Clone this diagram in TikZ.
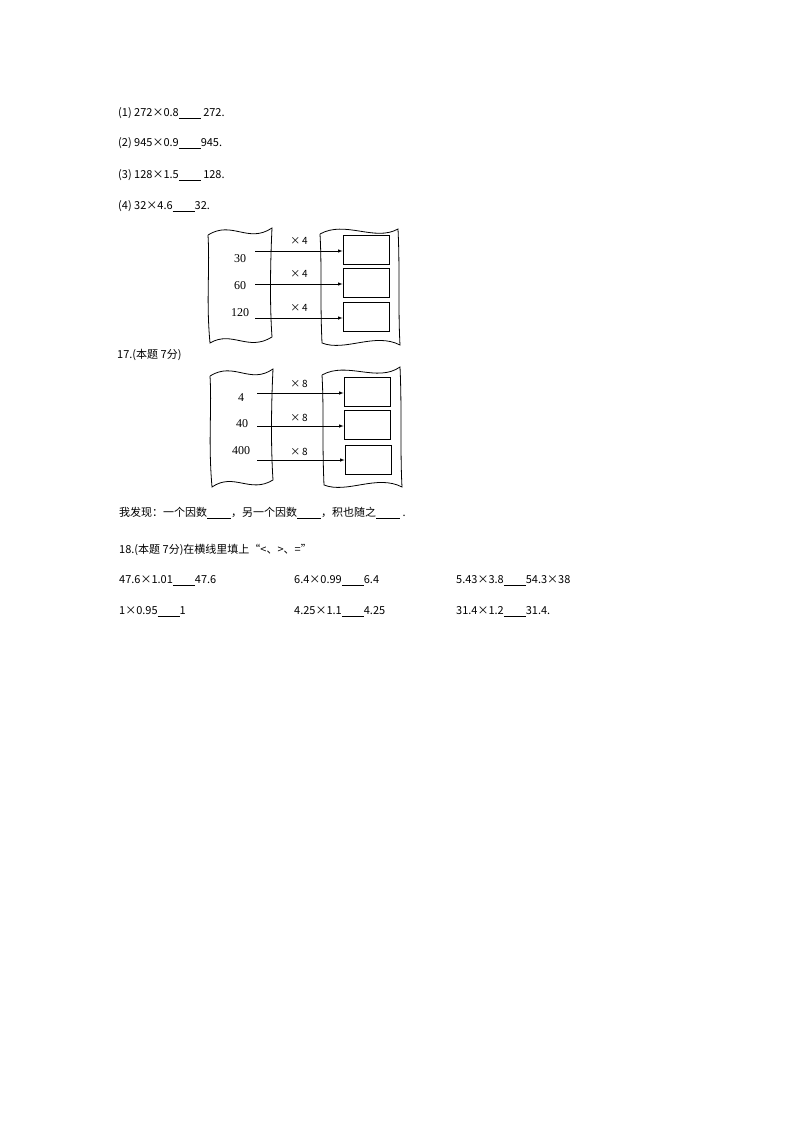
\documentclass[tikz,border=0pt]{standalone}
\usepackage{fontspec}
\setmainfont{Liberation Serif}
\newfontfamily\cjk{Noto Sans CJK SC}
\newfontfamily\mono{Liberation Mono}
\begin{document}
\begin{tikzpicture}[x=1pt,y=-1pt,
  txt/.style={anchor=west,inner sep=0pt,font=\cjk\fontsize{11}{11}\selectfont},
  num/.style={inner sep=0pt,font=\fontsize{12}{12}\selectfont},
  lab/.style={inner sep=0pt,font=\cjk\fontsize{10}{10}\selectfont},
  ansbox/.style={draw,line width=0.8pt,minimum width=46pt,minimum height=29pt,inner sep=0pt},
  pg/.style={draw,line width=0.8pt},
  arr/.style={-latex,line width=0.6pt}]
\useasboundingbox (0,0) rectangle (794,1123);
\node[txt] (l1) at (118,113) {(1) 272×0.8\underline{\hspace{22pt}} 272.};
\node[txt] (l2) at (118,143) {(2) 945×0.9\underline{\hspace{22pt}}945.};
\node[txt] (l3) at (118,175) {(3) 128×1.5\underline{\hspace{22pt}} 128.};
\node[txt] (l4) at (118,206) {(4) 32×4.6\underline{\hspace{22pt}}32.};
% diagram 1
\draw[pg] (208,235) .. controls (232,220) and (248,244) .. (272,228)
  .. controls (270,270) and (270,310) .. (272,337)
  .. controls (248,352) and (232,330) .. (210,343)
  .. controls (206,300) and (210,270) .. (208,235);
\draw[pg] (320,234) .. controls (345,220) and (375,242) .. (398,229)
  .. controls (400,270) and (398,310) .. (400,345)
  .. controls (375,332) and (345,352) .. (322,343)
  .. controls (320,300) and (322,270) .. (320,234);
\node[ansbox] (b1) at (366,250) {};
\node[ansbox] (b2) at (366,283) {};
\node[ansbox] (b3) at (366,317) {};
\node[num] (n1) at (240,259) {30};
\node[num] (n2) at (240,286) {60};
\node[num] (n3) at (240,313) {120};
\coordinate (s1) at (255,251); \coordinate (s2) at (255,284); \coordinate (s3) at (255,318);
\draw[arr] (s1) -- (b1.west |- s1);
\draw[arr] (s2) -- (b2.west |- s2);
\draw[arr] (s3) -- (b3.west |- s3);
\node[lab] (x1) at (299,241) {×\,4};
\node[lab] (x2) at (299,274) {×\,4};
\node[lab] (x3) at (299,308) {×\,4};
\node[txt] (t17) at (117,355) {17.(本题 7分)};
% diagram 2
\draw[pg] (210,376) .. controls (234,361) and (250,385) .. (273,369)
  .. controls (271,410) and (271,450) .. (273,480)
  .. controls (250,494) and (234,472) .. (212,487)
  .. controls (208,440) and (212,410) .. (210,376);
\draw[pg] (322,375) .. controls (347,361) and (377,383) .. (400,367)
  .. controls (402,410) and (400,450) .. (402,487)
  .. controls (377,474) and (347,494) .. (324,485)
  .. controls (322,440) and (324,410) .. (322,375);
\node[ansbox] (c1) at (367,392) {};
\node[ansbox] (c2) at (367,425) {};
\node[ansbox] (c3) at (368,460) {};
\node[num] (m1) at (241,398) {4};
\node[num] (m2) at (242,424) {40};
\node[num] (m3) at (241,451) {400};
\coordinate (r1) at (257,393); \coordinate (r2) at (257,426); \coordinate (r3) at (257,460);
\draw[arr] (r1) -- (c1.west |- r1);
\draw[arr] (r2) -- (c2.west |- r2);
\draw[arr] (r3) -- (c3.west |- r3);
\node[lab] (y1) at (299,384) {×\,8};
\node[lab] (y2) at (299,418) {×\,8};
\node[lab] (y3) at (299,452) {×\,8};
\node[txt] (fx) at (119,513) {我发现：一个因数\underline{\hspace{24pt}}，另一个因数\underline{\hspace{24pt}}，积也随之\underline{\hspace{24pt}} .};
\node[txt] (t18) at (119,550) {18.(本题 7分)在横线里填上“<、>、=”};
\node[txt] (a1) at (119,581) {47.6×1.01\underline{\hspace{22pt}}47.6};
\node[txt] (a2) at (294,581) {6.4×0.99\underline{\hspace{22pt}}6.4};
\node[txt] (a3) at (456,581) {5.43×3.8\underline{\hspace{22pt}}54.3×38};
\node[txt] (a4) at (119,612) {1×0.95\underline{\hspace{22pt}}1};
\node[txt] (a5) at (294,612) {4.25×1.1\underline{\hspace{22pt}}4.25};
\node[txt] (a6) at (456,612) {31.4×1.2\underline{\hspace{22pt}}31.4.};
\end{tikzpicture}
\end{document}
